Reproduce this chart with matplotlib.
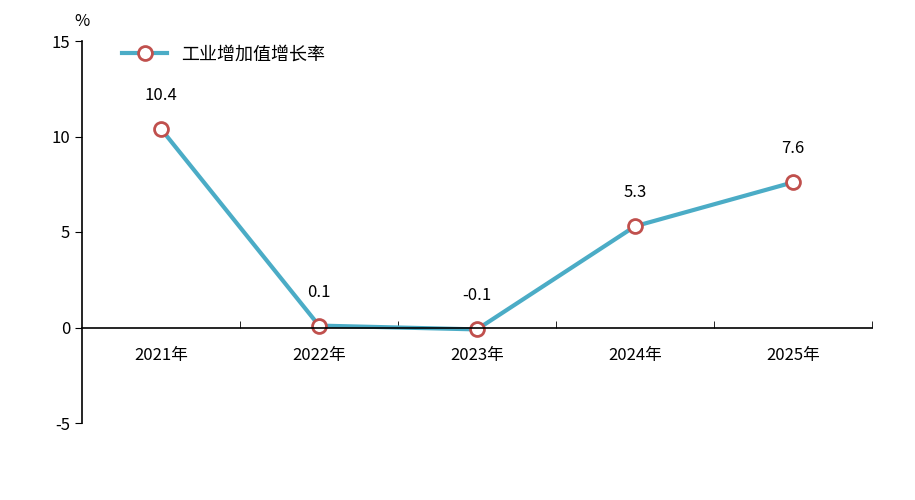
import matplotlib
matplotlib.use("Agg")
import matplotlib.pyplot as plt
import numpy as np

plt.rcParams['font.family'] = ['Noto Sans CJK SC', 'DejaVu Sans']

years = ["2021年", "2022年", "2023年", "2024年", "2025年"]
values = [10.4, 0.1, -0.1, 5.3, 7.6]
series_name = "工业增加值增长率"

fig = plt.figure(figsize=(9.15, 5.0), dpi=100)
ax = fig.add_axes([0.0896, 0.154, 0.8634, 0.764])
x = np.arange(len(years))
ax.plot(x, values, color='#4BACC6', lw=3, marker='o', ms=10,
        mfc='white', mec='#C0504D', mew=2, label=series_name)
for xi, v in zip(x, values):
    ax.annotate(f"{v:g}", (xi, v), xytext=(0, 18), textcoords='offset points',
                ha='center', va='bottom', fontsize=12)

ax.set_xlim(-0.5, 4.5)
ax.set_ylim(-5, 15)
ax.set_yticks([-5, 0, 5, 10, 15])
ax.set_yticklabels(["-5", "0", "5", "10", "15"], fontsize=12)
ax.spines['top'].set_visible(False)
ax.spines['right'].set_visible(False)
ax.spines['bottom'].set_position(('data', 0))
ax.spines['bottom'].set_linewidth(1.2)
ax.spines['left'].set_linewidth(1.2)
ax.set_xticks(x)
ax.set_xticklabels(years, fontsize=12)
ax.tick_params(axis='x', length=0, pad=14)
ax.set_xticks(np.arange(0.5, 5, 1), minor=True)
ax.tick_params(axis='x', which='minor', length=5, direction='in')
ax.tick_params(axis='y', length=5, direction='out')
ax.text(0, 1.03, "%", transform=ax.transAxes, ha='center', va='bottom', fontsize=12)
ax.legend(loc='upper left', bbox_to_anchor=(0.03, 1.03), frameon=False, fontsize=13,
          handlelength=2.5)
fig.savefig("out.png", dpi=100)
